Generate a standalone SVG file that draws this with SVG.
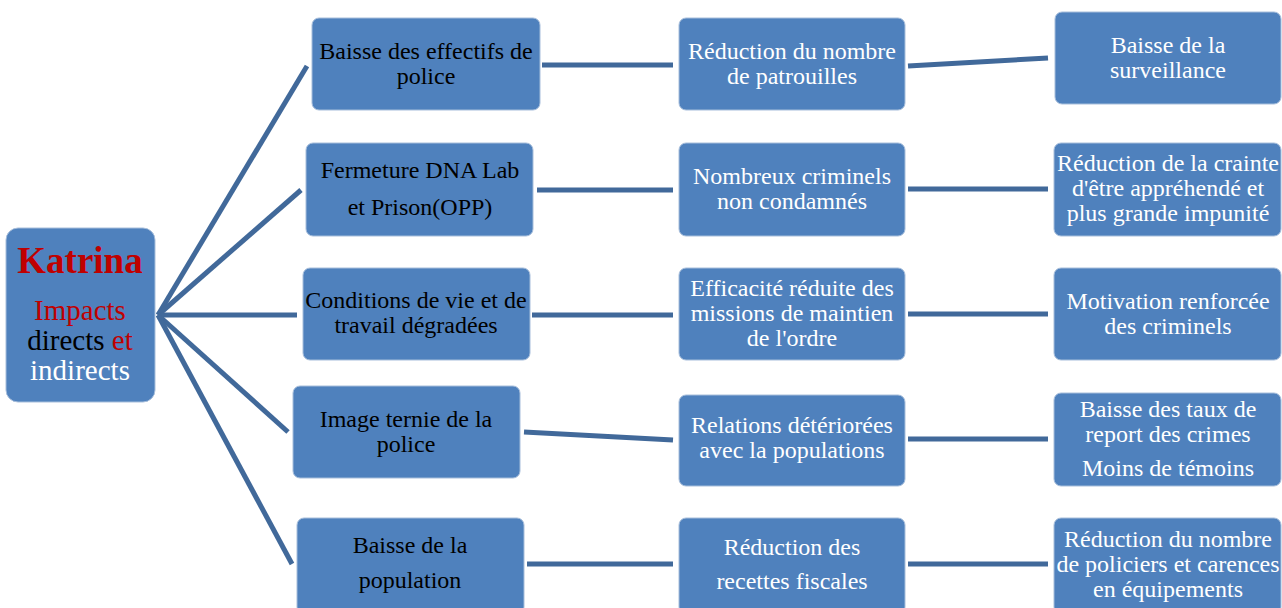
<svg xmlns="http://www.w3.org/2000/svg" width="1282" height="608" viewBox="0 0 1282 608">
<style>
.box{fill:#4f81bd;stroke:#a7bedb;stroke-width:1}
.t{font-size:24px;text-anchor:middle}
.b{fill:#000}
.w{fill:#fff}
.c{stroke:#41699a;stroke-width:5;fill:none;stroke-linecap:butt}
</style>
<rect width="1282" height="608" fill="#fff"/>
<g id="connectors">
<line class="c" x1="158" y1="315" x2="307" y2="66"/>
<line class="c" x1="158" y1="315" x2="301" y2="190"/>
<line class="c" x1="158" y1="315" x2="297" y2="315"/>
<line class="c" x1="158" y1="315" x2="288" y2="432"/>
<line class="c" x1="158" y1="315" x2="292" y2="564"/>
<line class="c" x1="542" y1="65" x2="673" y2="65"/>
<line class="c" x1="537" y1="190" x2="673" y2="190"/>
<line class="c" x1="532" y1="315" x2="673" y2="315"/>
<line class="c" x1="524" y1="432" x2="673" y2="440"/>
<line class="c" x1="527" y1="564" x2="673" y2="564"/>
<line class="c" x1="908" y1="66" x2="1048" y2="58"/>
<line class="c" x1="908" y1="189" x2="1048" y2="189"/>
<line class="c" x1="908" y1="314" x2="1048" y2="314"/>
<line class="c" x1="908" y1="439" x2="1048" y2="439"/>
<line class="c" x1="908" y1="564" x2="1048" y2="564"/>
</g>
<g font-family="Liberation Serif">
<g id="katrina">
<rect class="box" x="6" y="228" width="149" height="174" rx="12"/>
<text x="80" y="273" font-size="37" font-weight="bold" text-anchor="middle" fill="#c00000">Katrina</text>
<text x="80" y="320" font-size="29" text-anchor="middle" fill="#c00000">Impacts</text>
<text x="80" y="350" font-size="29" text-anchor="middle"><tspan fill="#000">directs </tspan><tspan fill="#c00000">et</tspan></text>
<text x="80" y="380" font-size="29" text-anchor="middle" fill="#fff">indirects</text>
</g>
<g id="c1r1"><rect class="box" x="312" y="18" width="228" height="92" rx="7"/>
<text class="t b" x="426" y="59">Baisse des effectifs de</text><text class="t b" x="426" y="84">police</text></g>
<g id="c1r2"><rect class="box" x="306" y="143" width="227" height="93" rx="7"/>
<text class="t b" x="420" y="178">Fermeture DNA Lab</text><text class="t b" x="420" y="215">et Prison(OPP)</text></g>
<g id="c1r3"><rect class="box" x="303" y="268" width="227" height="92" rx="7"/>
<text class="t b" x="416" y="308">Conditions de vie et de</text><text class="t b" x="416" y="333">travail dégradées</text></g>
<g id="c1r4"><rect class="box" x="293" y="386" width="227" height="92" rx="7"/>
<text class="t b" x="406" y="427">Image ternie de la</text><text class="t b" x="406" y="452">police</text></g>
<g id="c1r5"><rect class="box" x="297" y="518" width="227" height="96" rx="7"/>
<text class="t b" x="410" y="553">Baisse de la</text><text class="t b" x="410" y="588">population</text></g>
<g id="c2r1"><rect class="box" x="679" y="18" width="226" height="92" rx="7"/>
<text class="t w" x="792" y="59">Réduction du nombre</text><text class="t w" x="792" y="84">de patrouilles</text></g>
<g id="c2r2"><rect class="box" x="679" y="143" width="226" height="93" rx="7"/>
<text class="t w" x="792" y="184">Nombreux criminels</text><text class="t w" x="792" y="209">non condamnés</text></g>
<g id="c2r3"><rect class="box" x="679" y="268" width="226" height="92" rx="7"/>
<text class="t w" x="792" y="296">Efficacité réduite des</text><text class="t w" x="792" y="321">missions de maintien</text><text class="t w" x="792" y="346">de l'ordre</text></g>
<g id="c2r4"><rect class="box" x="679" y="395" width="226" height="91" rx="7"/>
<text class="t w" x="792" y="433">Relations détériorées</text><text class="t w" x="792" y="458">avec la populations</text></g>
<g id="c2r5"><rect class="box" x="679" y="518" width="226" height="96" rx="7"/>
<text class="t w" x="792" y="555">Réduction des</text><text class="t w" x="792" y="589">recettes fiscales</text></g>
<g id="c3r1"><rect class="box" x="1055" y="12" width="226" height="92" rx="7"/>
<text class="t w" x="1168" y="53">Baisse de la</text><text class="t w" x="1168" y="78">surveillance</text></g>
<g id="c3r2"><rect class="box" x="1054" y="143" width="227" height="93" rx="7"/>
<text class="t w" x="1168" y="171">Réduction de la crainte</text><text class="t w" x="1168" y="196">d'être appréhendé et</text><text class="t w" x="1168" y="221">plus grande impunité</text></g>
<g id="c3r3"><rect class="box" x="1054" y="268" width="227" height="92" rx="7"/>
<text class="t w" x="1168" y="309">Motivation renforcée</text><text class="t w" x="1168" y="334">des criminels</text></g>
<g id="c3r4"><rect class="box" x="1054" y="393" width="227" height="93" rx="7"/>
<text class="t w" x="1168" y="417">Baisse des taux de</text><text class="t w" x="1168" y="442">report des crimes</text><text class="t w" x="1168" y="476">Moins de témoins</text></g>
<g id="c3r5"><rect class="box" x="1054" y="518" width="227" height="96" rx="7"/>
<text class="t w" x="1168" y="547">Réduction du nombre</text><text class="t w" x="1168" y="572">de policiers et carences</text><text class="t w" x="1168" y="597">en équipements</text></g>
</g>
</svg>
